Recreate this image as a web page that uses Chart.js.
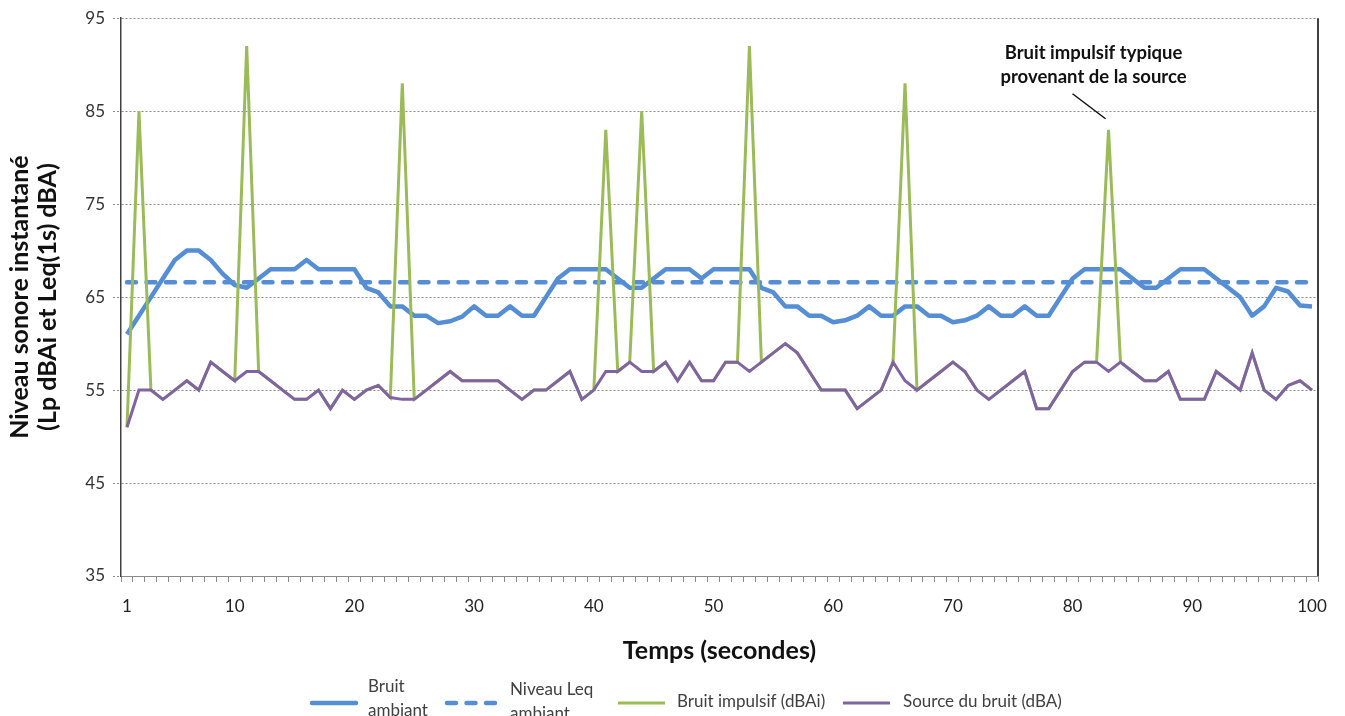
<!DOCTYPE html>
<html>
<head>
<meta charset="utf-8">
<script src="https://cdn.jsdelivr.net/npm/chart.js@4"></script>
<style>
  html, body { margin: 0; padding: 0; background: #fff; }
  #wrap { position: relative; width: 1345px; height: 716px; }
</style>
</head>
<body>
<div id="wrap"><canvas id="c" width="1345" height="716"></canvas></div>
<script>
// ---- Data ----
const categories = [1,2,3,4,5,6,7,8,9,10,11,12,13,14,15,16,17,18,19,20,
  21,22,23,24,25,26,27,28,29,30,31,32,33,34,35,36,37,38,39,40,
  41,42,43,44,45,46,47,48,49,50,51,52,53,54,55,56,57,58,59,60,
  61,62,63,64,65,66,67,68,69,70,71,72,73,74,75,76,77,78,79,80,
  81,82,83,84,85,86,87,88,89,90,91,92,93,94,95,96,97,98,99,100];

const xTickLabels = ['1','10','20','30','40','50','60','70','80','90','100'];
const yTicks = [35,45,55,65,75,85,95];

const bruitAmbiant = [61,63,65,67,69,70,70,69,67.5,66.3,66,67,68,68,68,69,68,68,68,68,
  66,65.5,64,64,63,63,62.2,62.4,62.9,64,63,63,64,63,63,65,67,68,68,68,
  68,67,66,66,67,68,68,68,67,68,68,68,68,66,65.5,64,64,63,63,62.3,
  62.5,63,64,63,63,64,64,63,63,62.3,62.5,63,64,63,63,64,63,63,65,67,
  68,68,68,68,67,66,66,67,68,68,68,67,66,65,63,64,66,65.6,64.1,64];

const niveauLeq = [66.6,66.6,66.6,66.6,66.6,66.6,66.6,66.6,66.6,66.6,66.6,66.6,66.6,66.6,66.6,66.6,66.6,66.6,66.6,66.6,
  66.6,66.6,66.6,66.6,66.6,66.6,66.6,66.6,66.6,66.6,66.6,66.6,66.6,66.6,66.6,66.6,66.6,66.6,66.6,66.6,
  66.6,66.6,66.6,66.6,66.6,66.6,66.6,66.6,66.6,66.6,66.6,66.6,66.6,66.6,66.6,66.6,66.6,66.6,66.6,66.6,
  66.6,66.6,66.6,66.6,66.6,66.6,66.6,66.6,66.6,66.6,66.6,66.6,66.6,66.6,66.6,66.6,66.6,66.6,66.6,66.6,
  66.6,66.6,66.6,66.6,66.6,66.6,66.6,66.6,66.6,66.6,66.6,66.6,66.6,66.6,66.6,66.6,66.6,66.6,66.6,66.6];

const bruitImpulsif = [51,85,55,54,55,56,55,58,57,56,92,57,56,55,54,54,55,53,55,54,
  55,55.5,54.2,88,54,55,56,57,56,56,56,56,55,54,55,55,56,57,54,55,
  83,57,58,85,57,58,56,58,56,56,58,58,92,58,59,60,59,57,55,55,
  55,53,54,55,58,88,55,56,57,58,57,55,54,55,56,57,53,53,55,57,
  58,58,83,58,57,56,56,57,54,54,54,57,56,55,59,55,54,55.5,56,55];

const sourceBruit = [51,55,55,54,55,56,55,58,57,56,57,57,56,55,54,54,55,53,55,54,
  55,55.5,54.2,54,54,55,56,57,56,56,56,56,55,54,55,55,56,57,54,55,
  57,57,58,57,57,58,56,58,56,56,58,58,57,58,59,60,59,57,55,55,
  55,53,54,55,58,56,55,56,57,58,57,55,54,55,56,57,53,53,55,57,
  58,58,57,58,57,56,56,57,54,54,54,57,56,55,59,55,54,55.5,56,55];

const seriesNames = ['Bruit ambiant', 'Niveau Leq ambiant', 'Bruit impulsif (dBAi)', 'Source du bruit (dBA)'];
const annotationLines = ['Bruit impulsif typique', 'provenant de la source'];
const annotationIndex = 82; // category 83

// ---- Styles ----
const BLUE = '#558ED5', GREEN = '#9BBB59', PURPLE = '#8064A2';
const FONT = 'Lato, "Open Sans", "Liberation Sans", sans-serif';

const extras = {
  id: 'extras',
  afterDraw(chart) {
    const ctx = chart.ctx;
    const area = chart.chartArea;
    ctx.save();
    // right border of plot area
    ctx.strokeStyle = '#404040';
    ctx.lineWidth = 2;
    ctx.beginPath();
    ctx.moveTo(area.right, area.top);
    ctx.lineTo(area.right, area.bottom);
    ctx.stroke();

    // annotation
    const xs = chart.scales.x, ys = chart.scales.y;
    const px = xs.getPixelForValue(annotationIndex);
    const py = ys.getPixelForValue(bruitImpulsif[annotationIndex]);
    ctx.fillStyle = '#111';
    ctx.font = 'bold 18.5px ' + FONT;
    ctx.textAlign = 'center';
    ctx.textBaseline = 'middle';
    ctx.fillText(annotationLines[0], px - 15, py - 77);
    ctx.fillText(annotationLines[1], px - 15, py - 53);
    ctx.strokeStyle = '#111';
    ctx.lineWidth = 1.5;
    ctx.beginPath();
    ctx.moveTo(px - 36, py - 36);
    ctx.lineTo(px - 3, py - 11);
    ctx.stroke();

    // legend
    ctx.font = '17px ' + FONT;
    ctx.fillStyle = '#404040';
    ctx.textAlign = 'left';
    const ly = 703;
    ctx.lineCap = 'round';
    // 1 solid blue
    ctx.strokeStyle = BLUE; ctx.lineWidth = 4.5; ctx.setLineDash([]);
    ctx.beginPath(); ctx.moveTo(312, ly); ctx.lineTo(356, ly); ctx.stroke();
    ctx.fillText('Bruit', 368, 687);
    ctx.fillText('ambiant', 368, 711);
    // 2 dashed blue
    ctx.setLineDash([9, 10.5]);
    ctx.beginPath(); ctx.moveTo(447, ly); ctx.lineTo(495, ly); ctx.stroke();
    ctx.setLineDash([]);
    ctx.fillText('Niveau Leq', 510, 690);
    ctx.fillText('ambiant', 510, 714);
    // 3 green
    ctx.lineCap = 'butt';
    ctx.strokeStyle = GREEN; ctx.lineWidth = 3;
    ctx.beginPath(); ctx.moveTo(618, ly); ctx.lineTo(665, ly); ctx.stroke();
    ctx.fillText(seriesNames[2], 677, 702);
    // 4 purple
    ctx.strokeStyle = PURPLE;
    ctx.beginPath(); ctx.moveTo(843, ly); ctx.lineTo(890, ly); ctx.stroke();
    ctx.fillText(seriesNames[3], 903, 702);
    ctx.restore();
  }
};

new Chart(document.getElementById('c'), {
  type: 'line',
  data: {
    labels: categories,
    datasets: [
      { label: seriesNames[0], data: bruitAmbiant, borderColor: BLUE, borderWidth: 4.5,
        pointRadius: 0, tension: 0, order: 4, borderJoinStyle: 'round' },
      { label: seriesNames[1], data: niveauLeq, borderColor: BLUE, borderWidth: 4.5,
        borderDash: [9, 10.5], borderCapStyle: 'round', pointRadius: 0, tension: 0, order: 3 },
      { label: seriesNames[2], data: bruitImpulsif, borderColor: GREEN, borderWidth: 3,
        pointRadius: 0, tension: 0, order: 2 },
      { label: seriesNames[3], data: sourceBruit, borderColor: PURPLE, borderWidth: 3,
        pointRadius: 0, tension: 0, order: 1 }
    ]
  },
  options: {
    responsive: false,
    animation: false,
    layout: { padding: { left: 0, right: 27, top: 16, bottom: 0 } },
    plugins: { legend: { display: false }, tooltip: { enabled: false } },
    scales: {
      x: {
        type: 'category',
        offset: true,
        grid: { offset: true, drawOnChartArea: false, drawTicks: true, tickLength: 6, color: '#8a8a8a' },
        border: { color: '#8a8a8a', width: 1 },
        ticks: {
          autoSkip: false, maxRotation: 0, minRotation: 0, padding: 14,
          color: '#222', font: { family: FONT, size: 17 },
          callback: function(v) { const l = String(this.getLabelForValue(v)); return xTickLabels.includes(l) ? l : ''; }
        },
        title: { display: true, text: 'Temps (secondes)', color: '#111',
          font: { family: FONT, size: 25, weight: 'bold' }, padding: { top: 0, bottom: 50 } },
        afterFit(s) { s.height = 140; }
      },
      y: {
        min: 35, max: 95,
        afterBuildTicks(s) { s.ticks = yTicks.map(v => ({ value: v })); },
        grid: { color: '#8a8a8a', lineWidth: 1, tickLength: 8, tickBorderDash: [2, 2] },
        border: { color: '#404040', width: 1.5, dash: [2, 2] },
        ticks: { padding: 8, color: '#333', font: { family: FONT, size: 17 } },
        title: { display: true, text: ['Niveau sonore instantané', '(Lp dBAi et Leq(1s) dBA)'], color: '#111',
          font: { family: FONT, size: 25, weight: 'bold', lineHeight: 1.12 }, padding: { top: 6, bottom: 0 } },
        afterFit(s) { s.width = 121; }
      }
    }
  },
  plugins: [extras]
});
</script>
</body>
</html>
